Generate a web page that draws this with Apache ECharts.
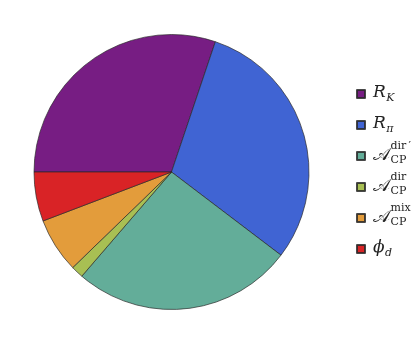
<!DOCTYPE html>
<html><head><meta charset="utf-8">
<script src="https://cdn.jsdelivr.net/npm/echarts@6/dist/echarts.min.js"></script>
<style>html,body{margin:0;padding:0;background:#fff}#c{width:415px;height:345px}</style>
</head><body><div id="c"></div>
<script>
const categories = ['R_K', 'R_pi', 'Adir_prime', 'Adir', 'Amix', 'phi_d'];
const values = [30.2, 30.2, 26.0, 1.45, 6.45, 5.8];
const colors = ['#771d83', '#4064d3', '#63ad99', '#a8bf53', '#e39c3b', '#d92326'];
// legend label pieces: [main symbol, subscript, superscript]
const labelMain = ['R', 'R', '𝒜', '𝒜', '𝒜', 'ϕ'];
const labelSub = ['K', 'π', 'CP', 'CP', 'CP', 'd'];
const labelSup = ['', '', 'dir\u2009′', 'dir', 'mix', ''];
const mainItalic = [true, true, false, false, false, true];
const subItalic = [true, true, false, false, false, true];

const serif = 'DejaVu Serif';
const legendTop = 89, itemStep = 31, iconSize = 8, legendLeft = 356, textLeft = 373;
const itemBox = 10; // height ECharts gives each empty-text legend item
const mctx = document.createElement('canvas').getContext('2d');
function measure(txt, font) { mctx.font = font; return mctx.measureText(txt).width; }

const graphics = [];
categories.forEach((c, i) => {
  const yc = legendTop + iconSize / 2 + i * itemStep;
  const mFont = (mainItalic[i] ? 'italic ' : '') + (labelMain[i] === '𝒜' ? 18 : 17) + 'px "' + serif + '"';
  const sFont = (subItalic[i] ? 'italic ' : '') + '11px "' + serif + '"';
  const w = measure(labelMain[i], mFont);
  graphics.push({type: 'text', x: textLeft, y: yc, silent: true,
    style: {text: labelMain[i], font: mFont, fill: '#222', align: 'left', verticalAlign: 'middle'}});
  graphics.push({type: 'text', x: textLeft + w + 0.5, y: yc + 5, silent: true,
    style: {text: labelSub[i], font: sFont, fill: '#222', align: 'left', verticalAlign: 'middle'}});
  if (labelSup[i]) graphics.push({type: 'text', x: textLeft + w + 0.5, y: yc - 9, silent: true,
    style: {text: labelSup[i], font: '11px "' + serif + '"', fill: '#222', align: 'left', verticalAlign: 'middle'}});
});

const chart = echarts.init(document.getElementById('c'), null, {renderer: 'canvas'});
chart.setOption({
  animation: false,
  legend: {
    orient: 'vertical', left: legendLeft, top: legendTop, itemGap: itemStep - itemBox, padding: 0,
    itemWidth: iconSize, itemHeight: iconSize, itemTextGap: 0, icon: 'rect',
    data: categories,
    formatter: () => '',
    textStyle: {fontSize: 1, lineHeight: iconSize}
  },
  graphic: graphics,
  series: [{
    type: 'pie',
    center: [171.5, 172],
    radius: [0, 137.5],
    startAngle: 180,
    clockwise: true,
    label: {show: false},
    labelLine: {show: false},
    emphasis: {disabled: true},
    itemStyle: {borderColor: 'rgba(40,40,40,0.85)', borderWidth: 0.8},
    data: categories.map((c, i) => ({name: c, value: values[i], itemStyle: {color: colors[i]}}))
  }]
});
</script></body></html>
